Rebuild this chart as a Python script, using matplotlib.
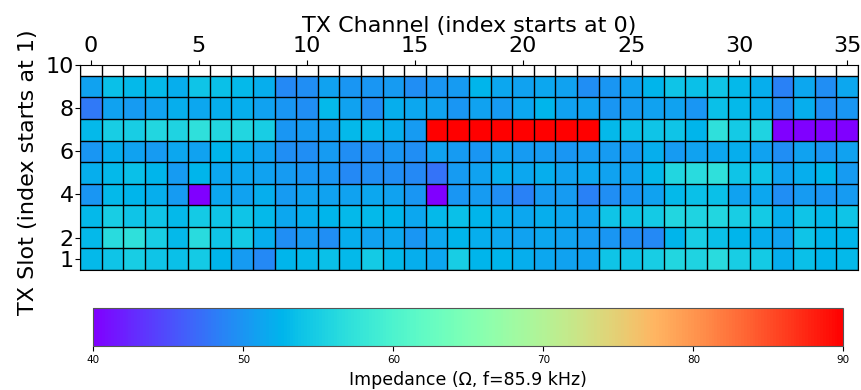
import matplotlib.pyplot as plt
import numpy as np

# TX channel (column) and TX slot (row) indices
channels = np.arange(36)
slots = np.arange(1, 10)

# Measured impedance (ohm) per slot, slot 1 first, one value per channel
impedance = [
    [53, 54, 55, 54, 53.5, 54.5, 52.5, 50.5, 49, 52.5, 53, 53.5,
     53, 54.5, 53, 52, 51.5, 55, 52.5, 52.5, 52, 51.5, 51, 51,
     54, 54, 55, 56, 55.5, 56.5, 55, 54.5, 52, 53.5, 52.5, 53],
    [53, 56.5, 57, 55, 53, 56.5, 54, 54.5, 52, 49.5, 50.5, 49.5,
     52, 51, 51.5, 50, 51.5, 52.5, 52, 51.5, 51, 51.5, 51, 50.5,
     50, 49.5, 49, 52.5, 55, 53.5, 52.5, 52, 51, 54, 52.5, 52.5],
    [53, 55, 54, 54, 53, 54.5, 54, 54, 53, 51.5, 52, 52.5,
     53, 53, 52.5, 51.5, 53, 53.5, 52.5, 52, 51.5, 52, 51.5, 51,
     54, 54, 54.5, 56, 55.5, 56, 55, 54.5, 52, 54, 53, 54],
    [50, 53, 52.5, 52, 50.5, 40, 51.5, 51, 52, 50.5, 51, 51,
     51, 51.5, 51, 50, 40, 50, 50.5, 49.5, 48.5, 50.5, 50.5, 48.5,
     49.5, 50, 51, 53, 53.5, 53.5, 51, 51.5, 49.5, 50.5, 50, 50.5],
    [52, 53, 53.5, 52.5, 50.5, 52.5, 51.5, 51.5, 51, 50.5, 50, 50,
     49, 49.5, 49.5, 49, 47.5, 50.5, 51, 52, 51.5, 52, 51, 51.5,
     51, 51, 53, 56, 56.5, 57, 54, 54, 51, 52, 52.5, 50.5],
    [50, 52, 51, 50.5, 51.5, 51, 52.5, 52, 51, 49.5, 49.5, 50.5,
     49.5, 49.5, 50, 49.5, 51, 50.5, 50, 51, 50.5, 50.5, 50, 50.5,
     50.5, 50.5, 52, 50.5, 51, 51.5, 52, 51, 49.5, 51, 50, 51],
    [53, 55, 55, 56, 55.5, 57, 56, 56, 55, 50, 50.5, 51,
     53, 53, 52, 50.5, 90, 90, 90, 90, 90, 90, 90, 90,
     53, 53.5, 54, 54, 52.5, 57, 54.5, 55.5, 40, 40, 40, 40],
    [48, 51, 50.5, 51, 52, 51.5, 52, 52, 51, 50, 49.5, 53,
     51, 49.5, 52, 51.5, 51, 50, 51, 50.5, 51.5, 52.5, 51, 51,
     50, 50.5, 51, 51, 50, 53.5, 53, 52, 49.5, 52, 49.5, 50],
    [51, 53.5, 53, 53, 52, 54, 53.5, 53, 52, 49, 49.5, 51,
     50, 50, 50.5, 49.5, 50, 50.5, 52.5, 51.5, 51, 51.5, 51, 49.5,
     50, 51, 52.5, 54, 53.5, 54, 53, 52, 48.5, 51.5, 49.5, 51.5],
]
freq_khz = 85.9

fig = plt.figure(figsize=(8.61, 3.9), dpi=100)
ax = fig.add_axes([0.093, 0.3077, 0.9035, 0.5256])
cax = fig.add_axes([0.1084, 0.114, 0.8711, 0.0974])

x_edges = np.append(channels - 0.5, channels[-1] + 0.5)
y_edges = np.append(slots - 0.5, slots[-1] + 0.5)
mesh = ax.pcolormesh(x_edges, y_edges, np.array(impedance),
                     cmap='rainbow', vmin=40, vmax=90)

ax.set_xlim(-0.5, 35.5)
ax.set_ylim(0.5, 10)

# cell borders drawn as a minor grid
ax.set_xticks(x_edges, minor=True)
ax.set_yticks(y_edges, minor=True)
ax.tick_params(which='minor', length=0)
ax.grid(which='minor', color='black', linewidth=1)
ax.grid(which='major', visible=False)

ax.xaxis.tick_top()
ax.xaxis.set_label_position('top')
ax.set_xticks(np.arange(0, 36, 5))
ax.set_yticks([1, 2, 4, 6, 8, 10])
ax.tick_params(axis='x', which='major', labelsize=16, pad=3)
ax.tick_params(axis='y', which='major', labelsize=16, pad=1)
ax.set_xlabel('TX Channel (index starts at 0)', fontsize=16, labelpad=3)
ax.set_ylabel('TX Slot (index starts at 1)', fontsize=16)
ax.yaxis.set_label_coords(-0.054, 0.476)

cbar = fig.colorbar(mesh, cax=cax, orientation='horizontal')
cbar.set_ticks([40, 50, 60, 70, 80, 90])
cbar.ax.tick_params(labelsize=7.5)
cbar.outline.set_edgecolor('#555555')
cbar.set_label('Impedance (\u03a9, f=%.1f kHz)' % freq_khz, fontsize=12.5)

plt.savefig('out.png', dpi=100)
